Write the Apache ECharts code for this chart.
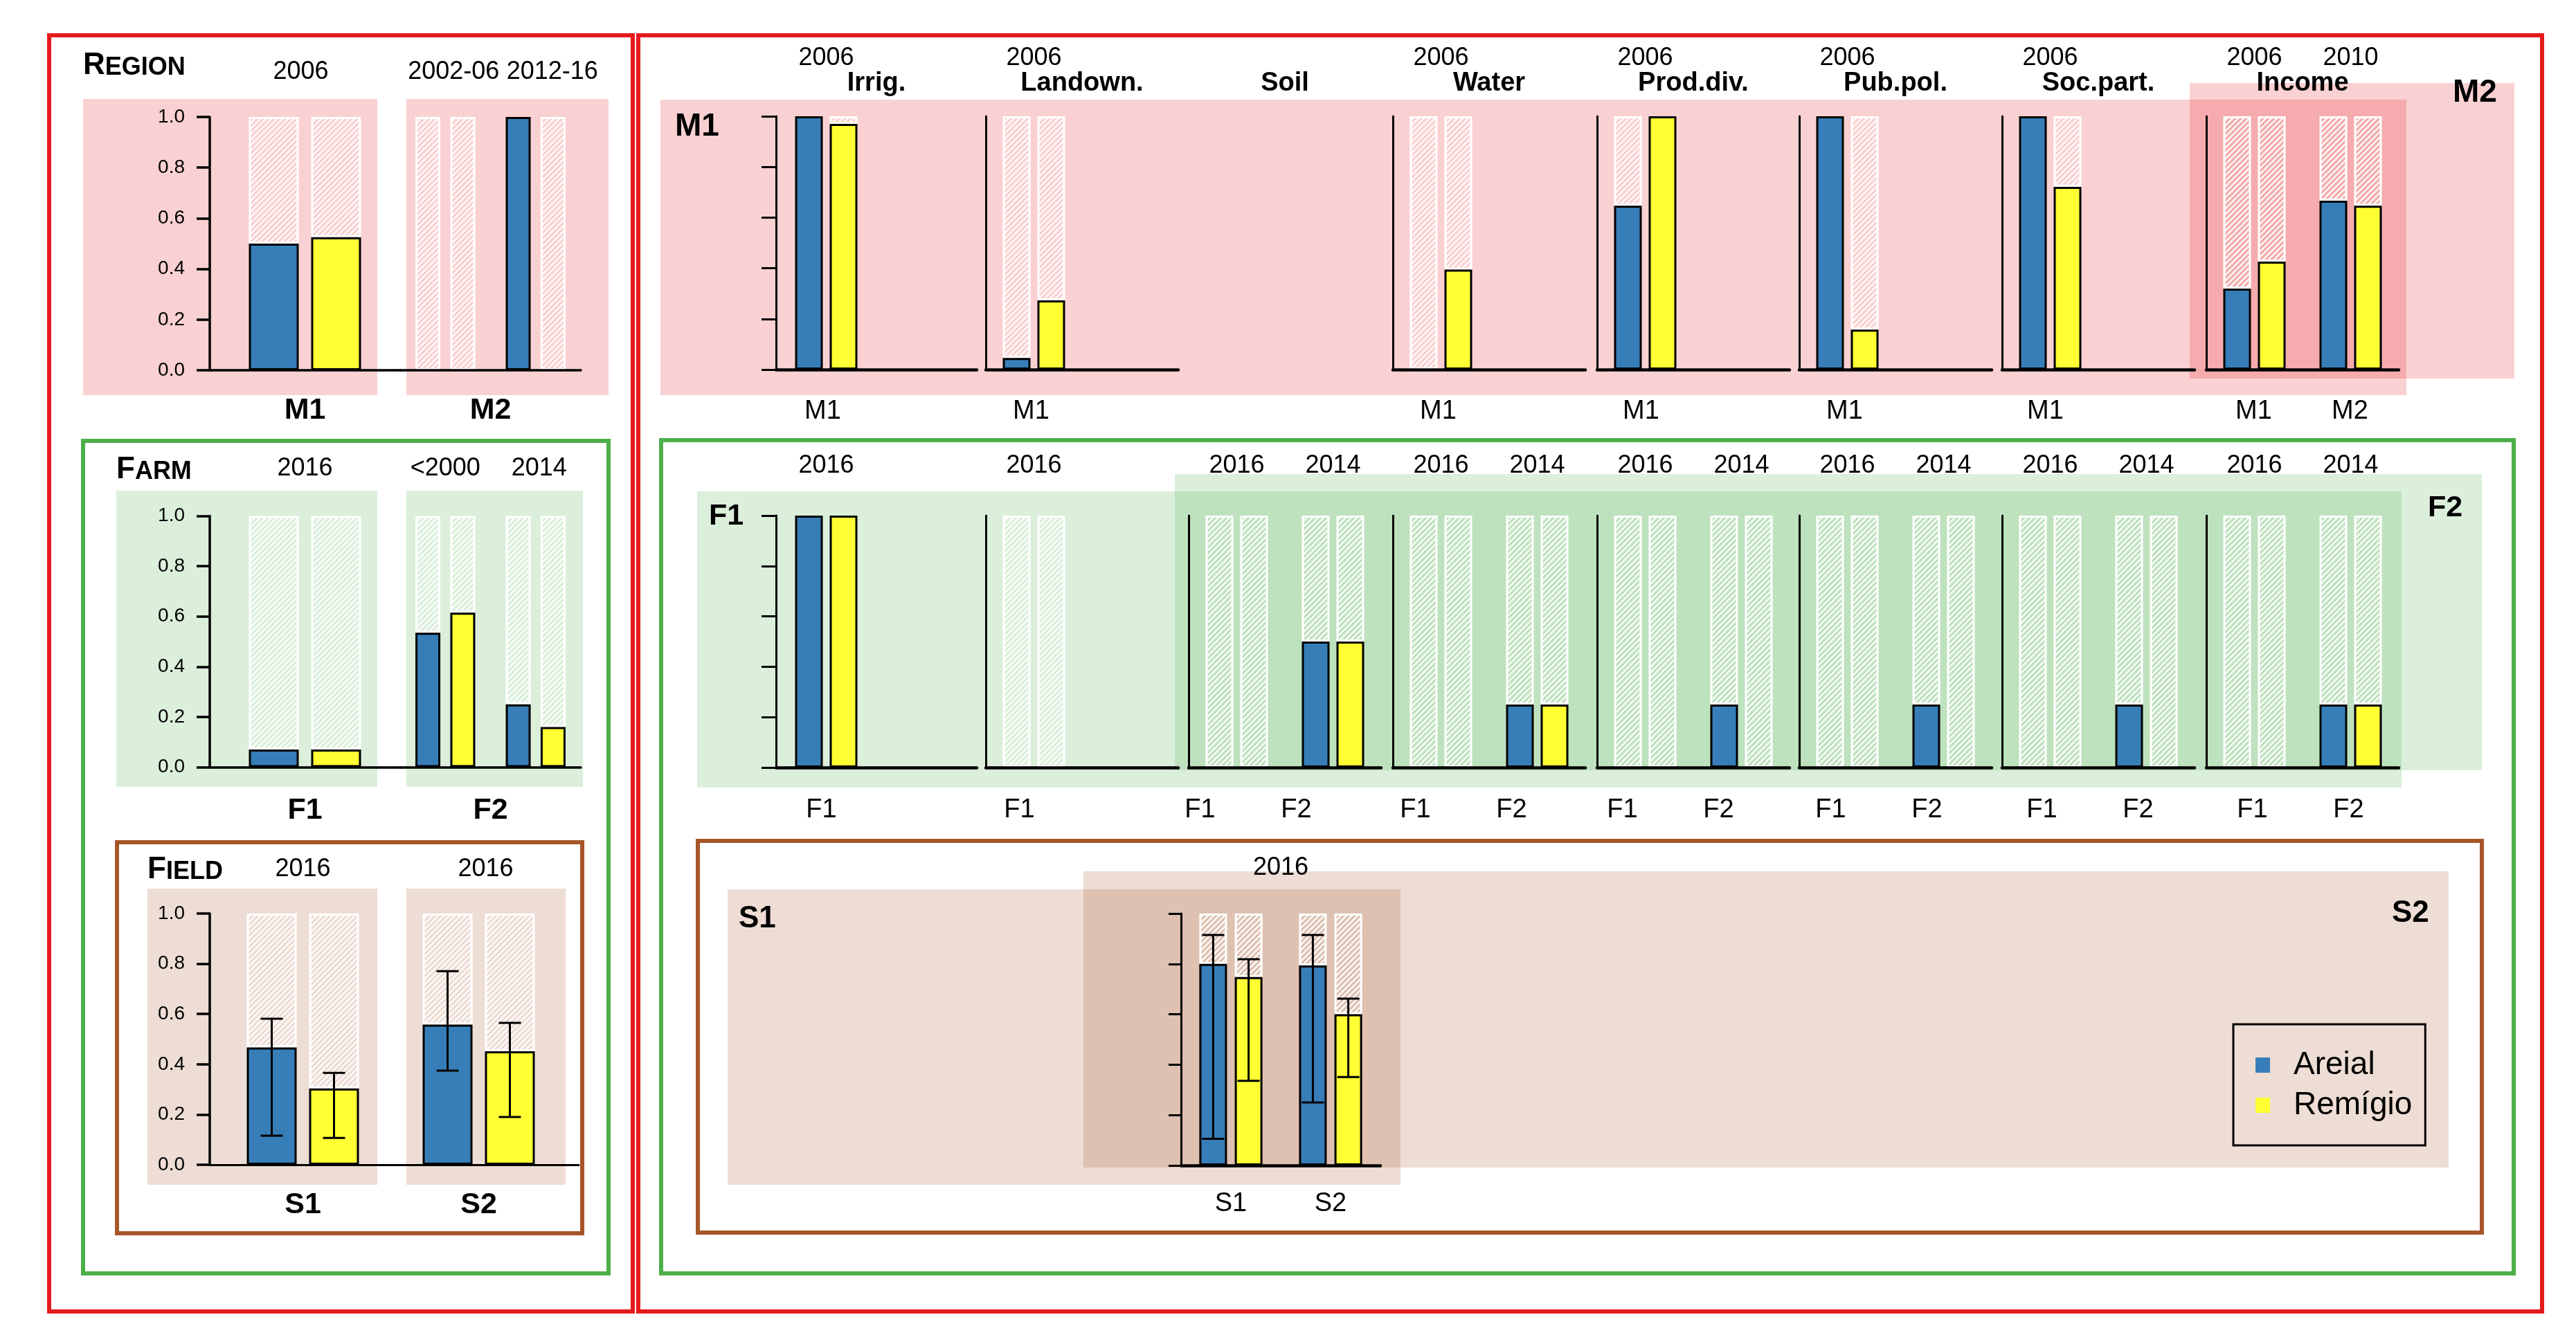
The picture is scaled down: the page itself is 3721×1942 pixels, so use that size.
<!DOCTYPE html>
<html>
<head>
<meta charset="utf-8">
<script src="https://cdn.jsdelivr.net/npm/echarts/dist/echarts.min.js"></script>
<style>
html,body{margin:0;padding:0;background:#ffffff;}
#chart{width:3721px;height:1942px;}
</style>
</head>
<body>
<div id="chart"></div>
<script>
// ===================== DATA =====================
const seriesNames = ['Areial', 'Remígio'];
const levelNames = ['Region', 'Farm', 'Field'];

// ---- left column: scale overview ----
const regionGroups = ['M1', 'M2'];
const regionYears = [['2006'], ['2002-06', '2012-16']];
const regionAreial = [[0.50], [null, 1.00]];
const regionRemigio = [[0.525], [null, null]];

const farmGroups = ['F1', 'F2'];
const farmYears = [['2016'], ['<2000', '2014']];
const farmAreial = [[0.07], [0.535, 0.25]];
const farmRemigio = [[0.07], [0.615, 0.16]];

const fieldGroups = ['S1', 'S2'];
const fieldYears = [['2016'], ['2016']];
const fieldAreial = [[0.467], [0.558]];
const fieldRemigio = [[0.304], [0.452]];
const fieldAreialErr = [[[0.116, 0.581]], [[0.375, 0.771]]];
const fieldRemigioErr = [[[0.107, 0.366]], [[0.19, 0.565]]];

// ---- right block: practices ----
const practices = ['Irrig.', 'Landown.', 'Soil', 'Water', 'Prod.div.', 'Pub.pol.', 'Soc.part.', 'Income'];

const muniGroups = [['M1'], ['M1'], [], ['M1'], ['M1'], ['M1'], ['M1'], ['M1', 'M2']];
const muniYears = [['2006'], ['2006'], [], ['2006'], ['2006'], ['2006'], ['2006'], ['2006', '2010']];
const muniAreial = [[1.00], [0.046], [], [null], [0.647], [1.00], [1.00], [0.32, 0.667]];
const muniRemigio = [[0.97], [0.273], [], [0.395], [1.00], [0.158], [0.721], [0.426, 0.647]];

const farmPracGroups = [['F1'], ['F1'], ['F1', 'F2'], ['F1', 'F2'], ['F1', 'F2'], ['F1', 'F2'], ['F1', 'F2'], ['F1', 'F2']];
const farmPracYears = [['2016'], ['2016'], ['2016', '2014'], ['2016', '2014'], ['2016', '2014'], ['2016', '2014'], ['2016', '2014'], ['2016', '2014']];
const farmPracAreial = [[1.00], [null], [null, 0.50], [null, 0.25], [null, 0.25], [null, 0.25], [null, 0.25], [null, 0.25]];
const farmPracRemigio = [[1.00], [null], [null, 0.50], [null, 0.25], [null, null], [null, null], [null, null], [null, 0.25]];

const fieldPracGroups = ['S1', 'S2'];
const fieldPracYear = '2016';
const fieldPracAreial = [0.80, 0.794];
const fieldPracRemigio = [0.748, 0.60];
const fieldPracAreialErr = [[0.106, 0.915], [0.25, 0.915]];
const fieldPracRemigioErr = [[0.336, 0.819], [0.351, 0.662]];

// ===================== STYLE / LAYOUT =====================
const FF = '"Liberation Sans", Arial, Helvetica, sans-serif';
const BLUE = '#377eb8', YELLOW = '#ffff33';
const RED = '#e41a1c', GREEN = '#4daf4a', BROWN = '#a65628';
const cRed = [228, 26, 28], cGreen = [77, 175, 74], cBrown = [166, 86, 40];
function tint(rgb, k) { return 'rgb(' + rgb.map(c => Math.round(255 * (1 - k) + c * k)).join(',') + ')'; }
function rgba(rgb, a) { return 'rgba(' + rgb.join(',') + ',' + a + ')'; }

const patCache = {};
function pattern(col) {
  if (patCache[col]) return patCache[col];
  const c = document.createElement('canvas');
  c.width = 8; c.height = 8;
  const g = c.getContext('2d');
  g.fillStyle = '#ffffff'; g.fillRect(0, 0, 8, 8);
  g.strokeStyle = col; g.lineWidth = 3.4;
  g.beginPath();
  g.moveTo(-2, 10); g.lineTo(10, -2);
  g.moveTo(-6, 6); g.lineTo(6, -6);
  g.moveTo(2, 14); g.lineTo(14, 2);
  g.stroke();
  patCache[col] = { image: c, repeat: 'repeat' };
  return patCache[col];
}

const practiceAxisX = [1121, 1424, 1717, 2012, 2307, 2599, 2892, 3187];
const practiceW = [290, 278, 278, 278, 278, 278, 278, 278];
const muniShift = [5, 4, 0, 4, 6, 4, 7, 1];
const farmShift = [7, 21, 53, 37, 33, 24, 12, 3];
const muniDark = [false, false, false, false, false, false, false, true];
const farmDark = [false, false, true, true, true, true, true, true];

// ===================== BUILD =====================
const opt = {
  animation: false,
  backgroundColor: '#ffffff',
  textStyle: { fontFamily: FF },
  grid: [], xAxis: [], yAxis: [], series: []
};

function topLabel(L) {
  const base = { show: true, interval: 0, color: '#000', fontSize: 36, fontFamily: FF, margin: L.topGap, verticalAlign: 'middle' };
  if (!L.topShift) return base;
  const rich = {};
  L.topShift.forEach((s, i) => {
    rich['t' + i] = { fontSize: 36, fontFamily: FF, color: '#000', padding: s >= 0 ? [0, 0, 0, 2 * s] : [0, -2 * s, 0, 0] };
  });
  base.rich = rich;
  base.formatter = (v, i) => '{t' + i + '|' + v + '}';
  return base;
}

function addChart(L, D) {
  const gi = opt.grid.length;
  const n = D.cats.length;
  opt.grid.push({ left: L.left, top: L.top, width: L.width, height: L.height, containLabel: false, outerBoundsMode: 'none', show: false });
  const xb = opt.xAxis.length;
  opt.xAxis.push({
    gridIndex: gi, type: 'category', position: 'bottom', data: D.cats, z: 4,
    axisLine: { show: true, onZero: false, lineStyle: { color: '#000', width: L.xw } },
    axisTick: { show: false }, splitLine: { show: false }, splitArea: { show: false },
    axisLabel: D.name ? { show: false } : {
      show: true, interval: 0, color: '#000', fontSize: 38, fontFamily: FF,
      margin: L.botGap, verticalAlign: 'middle', padding: [0, 2 * (L.shift || 0), 0, 0]
    },
    name: D.name || '', nameLocation: 'middle', nameGap: L.botGap,
    nameTextStyle: { color: '#000', fontSize: 43, fontWeight: 'bold', fontFamily: FF, verticalAlign: 'middle' }
  });
  opt.xAxis.push({
    gridIndex: gi, type: 'category', position: 'top', data: D.years, z: 4,
    axisLine: { show: false }, axisTick: { show: false }, splitLine: { show: false },
    axisLabel: D.topName ? { show: false } : topLabel(L),
    name: D.topName || '', nameLocation: 'middle', nameGap: L.topGap,
    nameTextStyle: { color: '#000', fontSize: 36, fontFamily: FF, verticalAlign: 'middle' }
  });
  const yi = opt.yAxis.length;
  opt.yAxis.push({
    gridIndex: gi, type: 'value', min: 0, max: 1, interval: 0.2, show: L.yMode !== 'none', z: 4,
    axisLine: { show: true, lineStyle: { color: '#000', width: L.yw } },
    axisTick: { show: L.yMode === 'labels' || L.yMode === 'ticks', length: L.tickLen || 19, lineStyle: { color: '#000', width: L.yw } },
    axisLabel: { show: L.yMode === 'labels', color: '#000', fontSize: 28, fontFamily: FF, margin: 36, formatter: v => v.toFixed(1) },
    splitLine: { show: false }
  });
  [D.a, D.r].forEach((arr, s) => {
    const data = [], hatch = [];
    for (let i = 0; i < n; i++) {
      if (i < D.slots) {
        const v = arr[i] == null ? null : arr[i];
        data.push(v);
        const h = 1 - (v == null ? 0 : v);
        hatch.push(h > 0.001 ? +h.toFixed(4) : null);
      } else { data.push(null); hatch.push(null); }
    }
    const stack = 'g' + gi + 's' + s;
    opt.series.push({
      type: 'bar', name: seriesNames[s], xAxisIndex: xb, yAxisIndex: yi, stack: stack, data: data,
      barWidth: L.bw, barGap: L.gap, z: 3, silent: true,
      itemStyle: { color: s ? YELLOW : BLUE, borderColor: '#000', borderWidth: 3 }
    });
    opt.series.push({
      type: 'bar', name: 'hatch', xAxisIndex: xb, yAxisIndex: yi, stack: stack, data: hatch,
      barWidth: L.bw, barGap: L.gap, z: 2, silent: true,
      itemStyle: { color: pattern(L.stripe), borderColor: '#ffffff', borderWidth: 3 }
    });
  });
  if (D.aErr) {
    const off = L.bw * (1 + parseFloat(L.gap) / 100) / 2;
    [D.aErr, D.rErr].forEach((errs, s) => {
      opt.series.push({
        type: 'custom', name: 'err', xAxisIndex: xb, yAxisIndex: yi, z: 6, silent: true,
        data: errs.map((e, i) => [i, e[0], e[1]]), encode: { x: 0, y: [1, 2] },
        renderItem: (p, api) => {
          const lo = api.coord([api.value(0), api.value(1)]);
          const hi = api.coord([api.value(0), api.value(2)]);
          const x = lo[0] + (s ? off : -off);
          const st = { stroke: '#000', lineWidth: 3 };
          return {
            type: 'group', children: [
              { type: 'line', shape: { x1: x, y1: hi[1], x2: x, y2: lo[1] }, style: st },
              { type: 'line', shape: { x1: x - 16, y1: hi[1], x2: x + 16, y2: hi[1] }, style: st },
              { type: 'line', shape: { x1: x - 16, y1: lo[1], x2: x + 16, y2: lo[1] }, style: st }
            ]
          };
        }
      });
    });
  }
}

// ---- left column ----
const leftRows = [
  { top: 169, h: 366, groups: regionGroups, years: regionYears, a: regionAreial, r: regionRemigio, col: cRed, topGap: 65, botGap: 58.5, xw: 3.5, topShift: [12, 24] },
  { top: 745.5, h: 363, groups: farmGroups, years: farmYears, a: farmAreial, r: farmRemigio, col: cGreen, topGap: 68, botGap: 62.5, xw: 3.5, topShift: [0, 5] },
  { top: 1320, h: 363, groups: fieldGroups, years: fieldYears, a: fieldAreial, r: fieldRemigio, col: cBrown, topGap: 64, botGap: 58, xw: 3,
    aErr: fieldAreialErr, rErr: fieldRemigioErr, topShift: [10] }
];
leftRows.forEach((row, ri) => {
  for (let g = 0; g < 2; g++) {
    const nY = row.years[g].length;
    let left, width, bw, gap, tShift = null;
    if (nY === 1 && g === 0) { left = 303; width = ri === 2 ? 269 : 275; bw = 72; gap = '25%'; }
    else if (nY === 1) { left = 547; width = 289; bw = 72; gap = '25%'; tShift = row.topShift; }
    else { left = 578; width = 261; bw = 36; gap = '40%'; tShift = row.topShift; }
    if (g === 0) tShift = ri === 0 ? [-6] : null;
    addChart(
      { left: left, top: row.top, width: width, height: row.h, bw: bw, gap: gap, yMode: g === 0 ? 'labels' : 'none',
        tickLen: 19, xw: row.xw, yw: 3.5, stripe: tint(row.col, 0.2), topGap: row.topGap, botGap: row.botGap, topShift: tShift },
      { cats: row.years[g], years: row.years[g], slots: nY, a: row.a[g], r: row.r[g], name: row.groups[g],
        aErr: row.aErr ? row.aErr[g] : null, rErr: row.rErr ? row.rErr[g] : null }
    );
  }
});

// ---- right block: municipal row ----
practices.forEach((p, k) => {
  if (muniGroups[k].length === 0) return;
  const cats = muniGroups[k].slice(), yrs = muniYears[k].slice();
  while (cats.length < 2) { cats.push(''); yrs.push(''); }
  addChart(
    { left: practiceAxisX[k], top: 168, width: practiceW[k], height: 366, bw: 40, gap: '25%',
      yMode: k === 0 ? 'ticks' : 'line', tickLen: 21, xw: 4.5, yw: 3,
      stripe: tint(cRed, muniDark[k] ? 0.36 : 0.2), topGap: 84, botGap: 61, shift: muniShift[k] },
    { cats: cats, years: yrs, slots: muniGroups[k].length, a: muniAreial[k], r: muniRemigio[k] }
  );
});
// ---- right block: farm row ----
practices.forEach((p, k) => {
  const cats = farmPracGroups[k].slice(), yrs = farmPracYears[k].slice();
  while (cats.length < 2) { cats.push(''); yrs.push(''); }
  addChart(
    { left: practiceAxisX[k], top: 745, width: practiceW[k], height: 364, bw: 40, gap: '25%',
      yMode: k === 0 ? 'ticks' : 'line', tickLen: 21, xw: 4.5, yw: 3,
      stripe: tint(cGreen, farmDark[k] ? 0.36 : 0.2), topGap: 72, botGap: 62, shift: farmShift[k] },
    { cats: cats, years: yrs, slots: farmPracGroups[k].length, a: farmPracAreial[k], r: farmPracRemigio[k] }
  );
});
// ---- right block: field row (soil) ----
addChart(
  { left: 1706, top: 1320, width: 288, height: 364, bw: 40, gap: '28%', yMode: 'ticks', tickLen: 18, xw: 4.5, yw: 3,
    stripe: tint(cBrown, 0.36), topGap: 65.5, botGap: 56 },
  { cats: fieldPracGroups, years: fieldPracGroups.map(() => ''), slots: 2, a: fieldPracAreial, r: fieldPracRemigio,
    topName: fieldPracYear, aErr: fieldPracAreialErr, rErr: fieldPracRemigioErr }
);

// ---- legend ----
opt.legend = {
  data: seriesNames, orient: 'vertical', left: 3226, top: 1480, padding: [36, 19, 35, 32],
  itemWidth: 21, itemHeight: 22, itemGap: 12, icon: 'rect', selectedMode: false,
  borderColor: '#000', borderWidth: 3, backgroundColor: 'transparent',
  itemStyle: { borderWidth: 0 },
  textStyle: { fontSize: 46, color: '#000', fontFamily: FF, padding: [0, 0, 0, 29] }
};

// ---- graphics: panels, frames, labels ----
const els = [];
function rectFill(x1, y1, x2, y2, fill) {
  els.push({ type: 'rect', z: 0, silent: true, shape: { x: x1, y: y1, width: x2 - x1, height: y2 - y1 }, style: { fill: fill } });
}
function rectLine(x1, y1, x2, y2, stroke) {
  els.push({ type: 'rect', z: 1, silent: true, shape: { x: x1, y: y1, width: x2 - x1, height: y2 - y1 }, style: { fill: 'none', stroke: stroke, lineWidth: 6 } });
}
function text(str, x, y, size, bold, align) {
  const font = (bold ? 'bold ' : '') + size + 'px ' + FF;
  els.push({ type: 'text', z: 10, silent: true, x: x, y: y,
    style: { text: str, fill: '#000', font: font, align: align || 'left', verticalAlign: 'middle', textAlign: align || 'left', textVerticalAlign: 'middle' } });
}
const pinkA = rgba(cRed, 0.2), greenA = rgba(cGreen, 0.2), brownA = rgba(cBrown, 0.2);
// left panels
rectFill(120, 143, 545, 571, pinkA); rectFill(587, 143, 879, 571, pinkA);
rectFill(168, 709, 545, 1137, greenA); rectFill(587, 709, 842, 1137, greenA);
rectFill(213, 1284, 545, 1712, brownA); rectFill(587, 1284, 817, 1712, brownA);
// right panels
rectFill(954, 144, 3476, 571, pinkA); rectFill(3163, 120, 3632, 547, pinkA);
rectFill(1007, 710, 3469, 1138, greenA); rectFill(1697, 685, 3585, 1113, greenA);
rectFill(1051, 1285, 2023, 1712, brownA); rectFill(1565, 1259, 3537, 1687, brownA);
// frames
rectLine(71, 51, 914, 1895, RED); rectLine(922, 51, 3672, 1895, RED);
rectLine(120, 637, 879, 1840, GREEN); rectLine(169, 1217, 841, 1782, BROWN);
rectLine(955, 636, 3631, 1840, GREEN); rectLine(1008, 1215, 3585, 1781, BROWN);

// level labels in small caps
const measureCtx = document.createElement('canvas').getContext('2d');
const levelPos = [[120, 111], [168, 695], [213, 1273]];
levelNames.forEach((nm, i) => {
  const [x, base] = levelPos[i];
  const big = 44, small = 36;
  measureCtx.font = 'bold ' + big + 'px ' + FF;
  const w = measureCtx.measureText(nm[0]).width;
  text(nm[0].toUpperCase(), x, base - 0.358 * big, big, true);
  text(nm.slice(1).toUpperCase(), x + w, base - 0.358 * small, small, true);
});
// row labels in right block
text(regionGroups[0], 975, 183, 46, true);
text(regionGroups[1], 3543, 134, 46, true);
text(farmGroups[0], 1024, 746, 43, true);
text(farmGroups[1], 3507, 734.5, 43, true);
text(fieldGroups[0], 1067, 1328, 44, true);
text(fieldGroups[1], 3455, 1320, 44, true);
// practice titles
practices.forEach((p, k) => text(p, practiceAxisX[k] + practiceW[k] / 2, 121, 38, true, 'center'));

opt.graphic = { elements: els };

const chart = echarts.init(document.getElementById('chart'), null, { renderer: 'canvas', width: 3721, height: 1942 });
chart.setOption(opt);
</script>
</body>
</html>
